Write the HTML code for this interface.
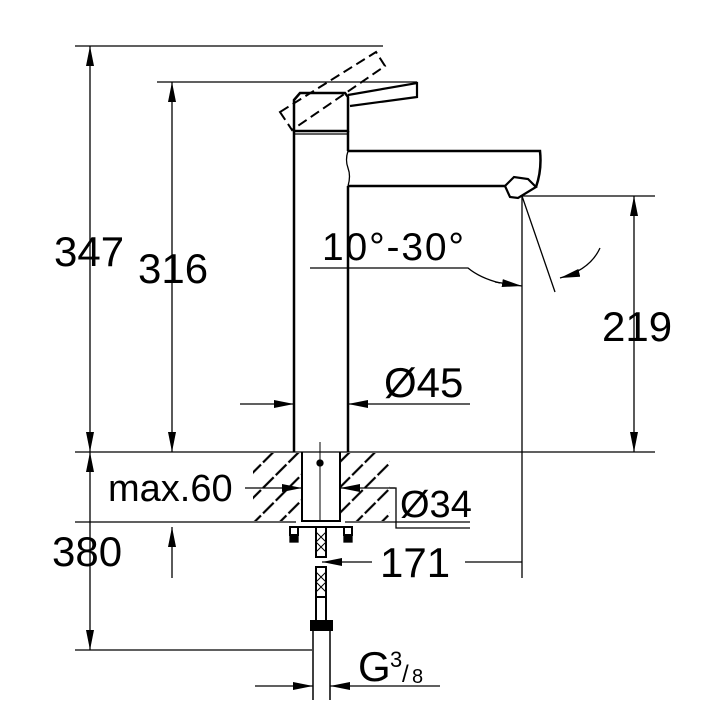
<!DOCTYPE html>
<html><head><style>body{margin:0;background:#fff}svg{display:block}text{font-family:"Liberation Sans",sans-serif;fill:#000}</style></head><body>
<svg width="720" height="716" viewBox="0 0 720 716" xmlns="http://www.w3.org/2000/svg">
<defs>
<marker id="b" viewBox="0 0 20 8" refX="20" refY="4" markerWidth="20" markerHeight="8" markerUnits="userSpaceOnUse" orient="auto-start-reverse"><path d="M0,0L20,4L0,8z"/></marker>
<pattern id="h" width="18" height="18" patternUnits="userSpaceOnUse" patternTransform="rotate(45)"><line x1="9" y1="0" x2="9" y2="18" stroke="#000" stroke-width="2.2" stroke-dasharray="15 3"/></pattern>
</defs>
<g stroke="#000" stroke-width="1.3" fill="none">
<line x1="75" y1="46" x2="383" y2="46"/>
<line x1="157" y1="82" x2="417" y2="82"/>
<line x1="75" y1="452" x2="655" y2="452"/>
<line x1="75" y1="650" x2="312" y2="650"/>
<line x1="520" y1="196" x2="655" y2="196"/>
<line x1="75" y1="522" x2="296" y2="522"/>
<line x1="345" y1="522" x2="470" y2="522"/>
<line x1="90" y1="46" x2="90" y2="452" marker-start="url(#b)" marker-end="url(#b)"/>
<line x1="172" y1="82" x2="172" y2="452" marker-start="url(#b)" marker-end="url(#b)"/>
<line x1="90" y1="452" x2="90" y2="650" marker-start="url(#b)" marker-end="url(#b)"/>
<line x1="634" y1="196" x2="634" y2="452" marker-start="url(#b)" marker-end="url(#b)"/>
<line x1="172" y1="527" x2="172" y2="578" marker-start="url(#b)"/>
<rect x="253" y="453" width="49" height="68" fill="url(#h)" stroke="none"/>
<rect x="340" y="453" width="50" height="68" fill="url(#h)" stroke="none"/>
<path d="M294,452V131M348,452V186M348,151V131" stroke-width="2.5"/>
<path d="M348,151Q345,160 348,168Q351,176 348,186" stroke-width="1.3"/>
<path d="M302,452V521H340V452" stroke-width="2"/>
<line x1="320" y1="442" x2="320" y2="520" stroke-width="1"/>
<circle cx="320" cy="463" r="3" fill="#000"/>
<path d="M294,131V100L300,93H345L348,97V131Z" stroke-width="2.5"/>
<line x1="295" y1="134" x2="347" y2="134"/>
<path d="M348,95L417,83V97L350,106" stroke-width="2.2"/>
<path d="M280,112L376,52L385,66L292,130Z" stroke-dasharray="10 5" stroke-width="2"/>
<path d="M348,151H540Q542,170 536,187M348,186H505" stroke-width="2.5"/>
<path d="M505,186L514,177L528,179L536,187L518,198L510,197Z" stroke-width="2.2"/>
<line x1="522" y1="196" x2="522" y2="578"/>
<line x1="522" y1="196" x2="555" y2="292"/>
<path d="M310,268H468Q480,278 500,283" />
<line x1="495" y1="282" x2="522" y2="286" marker-end="url(#b)"/>
<path d="M600,248Q590,270 560,278" marker-end="url(#b)"/>
<line x1="240" y1="404" x2="294" y2="404" marker-end="url(#b)"/>
<line x1="470" y1="404" x2="348" y2="404" marker-end="url(#b)"/>
<line x1="245" y1="488" x2="302" y2="488" marker-end="url(#b)"/>
<path d="M395,488H340" marker-end="url(#b)"/>
<path d="M390,488H396V528H470"/>
<line x1="372" y1="562" x2="322" y2="562" marker-end="url(#b)"/>
<line x1="465" y1="562" x2="522" y2="562"/>
<line x1="290" y1="527" x2="352" y2="527" stroke-width="2"/>
<rect x="290" y="527" width="8" height="8" stroke-width="2"/>
<rect x="344" y="527" width="8" height="8" stroke-width="2"/>
<rect x="290" y="536" width="8" height="6" fill="#000"/>
<rect x="344" y="536" width="8" height="6" fill="#000"/>
<rect x="316" y="527" width="10" height="30" stroke-width="2"/>
<rect x="316" y="567" width="10" height="30" stroke-width="2"/>
<path d="M316,532L326,542M316,542L326,552M326,532L316,542M326,542L316,552M316,572L326,582M316,582L326,592M326,572L316,582M326,582L316,592" stroke-width="1"/>
<rect x="316" y="597" width="10" height="24" stroke-width="2"/>
<rect x="311" y="621" width="21" height="9" fill="#000" stroke-width="2"/>
<line x1="313" y1="630" x2="313" y2="700" stroke-width="1.5"/>
<line x1="330" y1="630" x2="330" y2="700" stroke-width="1.5"/>
<line x1="255" y1="686" x2="313" y2="686" marker-end="url(#b)"/>
<line x1="440" y1="686" x2="330" y2="686" marker-end="url(#b)"/>
</g>
<g font-size="42">
<text x="54" y="266">347</text>
<text x="138" y="283">316</text>
<text x="602" y="341">219</text>
<text x="52" y="566">380</text>
<text x="322" y="260" font-size="39" textLength="142">10°-30°</text>
<text x="384" y="397" font-size="42">Ø45</text>
<text x="108" y="501" font-size="38">max.60</text>
<text x="400" y="517" font-size="38">Ø34</text>
<text x="380" y="577">171</text>
<text x="358" y="681">G</text>
<text x="390" y="667" font-size="22">3</text>
<text x="402" y="682" font-size="24">/</text>
<text x="412" y="683" font-size="20">8</text>
</g>
</svg>
</body></html>
